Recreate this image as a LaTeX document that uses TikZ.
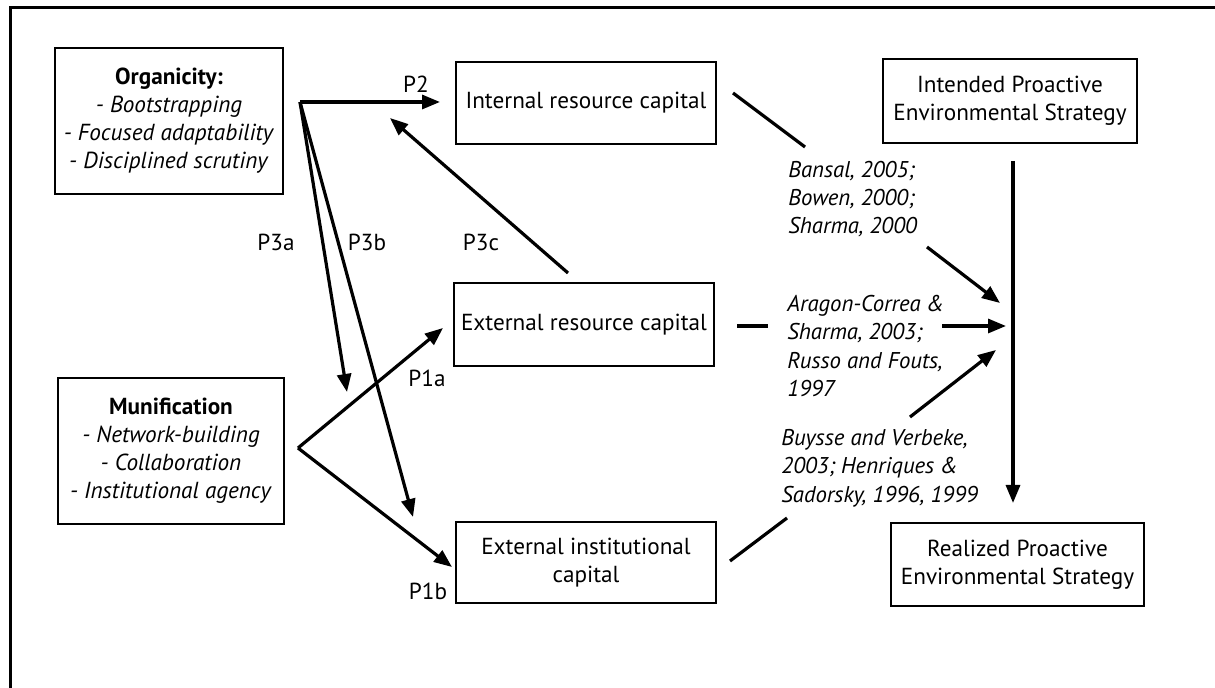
\documentclass[tikz,border=0pt]{standalone}
\usepackage{fontspec}
\setmainfont{PT Sans}
\usetikzlibrary{arrows.meta}
\begin{document}
\begin{tikzpicture}[x=0.5pt,y=-0.5pt,
  every node/.style={font=\fontsize{11.6}{14}\selectfont},
  box/.style={draw, line width=0.9pt, inner sep=0pt, align=center},
  cite/.style={align=left, inner sep=0pt, anchor=west,
    font=\fontsize{11.4}{14.2}\selectfont\itshape},
  plabel/.style={inner sep=0pt},
  link/.style={line width=1.6pt},
  arr/.style={link, -{Triangle[length=9pt,width=7pt]}},
]
\useasboundingbox (0,0) rectangle (1215,688);
% frame
\draw[line width=1.5pt] (10,688) -- (10,8) -- (1215,8);

% boxes
\node[box, minimum width=114pt, minimum height=73pt] (org) at (169,121)
  {\textbf{Organicity:}\\\textit{- Bootstrapping}\\\textit{- Focused adaptability}\\\textit{- Disciplined scrutiny}};
\node[box, minimum width=113pt, minimum height=73pt] (mun) at (171,451)
  {\textbf{Munification}\\\textit{- Network-building}\\\textit{- Collaboration}\\\textit{- Institutional agency}};
\node[box, minimum width=130pt, minimum height=41pt] (intres) at (586,103) {Internal resource capital};
\node[box, minimum width=130pt, minimum height=41.5pt] (extres) at (584,324.5) {External resource capital};
\node[box, minimum width=130pt, minimum height=40.5pt] (extinst) at (586,562.5) {External institutional\\capital};
\node[box, minimum width=127pt, minimum height=42pt] (intended) at (1010,101) {Intended Proactive\\Environmental Strategy};
\node[box, minimum width=126.5pt, minimum height=41.5pt] (realized) at (1017.5,564.5) {Realized Proactive\\Environmental Strategy};

% citations
\node[cite] (c1) at (788,199) {Bansal, 2005;\\Bowen, 2000;\\Sharma, 2000};
\node[cite] (c2) at (787,346) {Aragon-Correa \&\\Sharma, 2003;\\Russo and Fouts,\\1997};
\node[cite] (c3) at (781,468) {Buysse and Verbeke,\\2003; Henriques \&\\Sadorsky, 1996, 1999};

% proposition labels
\node[plabel] (lp2) at (416,84) {P2};
\node[plabel] (lp3a) at (276,242) {P3a};
\node[plabel] (lp3b) at (367,242) {P3b};
\node[plabel] (lp3c) at (481,242) {P3c};
\node[plabel] (lp1a) at (427,378) {P1a};
\node[plabel] (lp1b) at (428,591) {P1b};

% connector end points
\coordinate (fork) at (300,102);
\coordinate (p2end) at (440,102);
\coordinate (p3aend) at (347,392);
\coordinate (p3bend) at (413,517);
\coordinate (p3cstart) at (568,273);
\coordinate (p3cend) at (390,118);
\coordinate (munfork) at (298,448);
\coordinate (p1aend) at (443,328);
\coordinate (p1bend) at (452,567);
\coordinate (ir1) at (733,93);
\coordinate (ir2) at (805,147);
\coordinate (a1s) at (927,247);
\coordinate (a1e) at (1000,303);
\coordinate (er1) at (737,326);
\coordinate (er2) at (768,326);
\coordinate (a2s) at (942,326);
\coordinate (a2e) at (1006,326);
\coordinate (a3s) at (910,417);
\coordinate (a3e) at (996,350);
\coordinate (ei1) at (730,561);
\coordinate (ei2) at (787,518);
\coordinate (vs) at (1013,161);
\coordinate (ve) at (1013,503);

% organicity links
\draw[arr] (fork) -- (p2end);
\draw[arr] (fork) -- (p3aend);
\draw[arr] (fork) -- (p3bend);
\draw[arr] (p3cstart) -- (p3cend);
% munification links
\draw[arr] (munfork) -- (p1aend);
\draw[arr] (munfork) -- (p1bend);
% capital to strategy links
\draw[link] (ir1) -- (ir2);
\draw[arr] (a1s) -- (a1e);
\draw[link] (er1) -- (er2);
\draw[arr] (a2s) -- (a2e);
\draw[link] (ei1) -- (ei2);
\draw[arr] (a3s) -- (a3e);
% intended to realized
\draw[arr] (vs) -- (ve);
\end{tikzpicture}
\end{document}
